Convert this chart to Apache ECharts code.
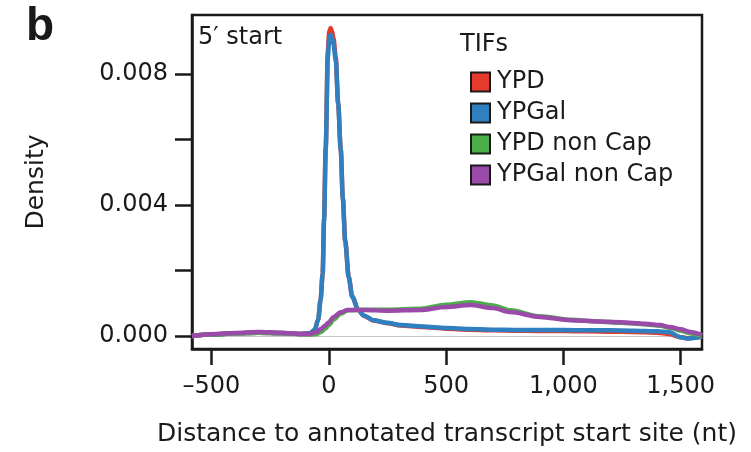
<!DOCTYPE html>
<html>
<head>
<meta charset="utf-8">
<script src="https://cdn.jsdelivr.net/npm/echarts@6/dist/echarts.min.js"></script>
<style>
html,body{margin:0;padding:0;background:#fff;}
#c{width:751px;height:452px;}
</style>
</head>
<body>
<div id="c"></div>
<script>
// ---- data ----
var seriesNames = ['YPD', 'YPGal', 'YPD non Cap', 'YPGal non Cap'];
var capX = [-583,-500,-400,-300,-200,-120,-80,-60,-45,-35,-26,-20,-13,-4,2,8,14,20,30,40,51,60,70,85,100,125,150,190,250,306,400,500,600,700,800,900,1000,1100,1200,1300,1400,1450,1500,1530,1591];
var ypdY = [0.00000,0.00004,0.00008,0.00010,0.00008,0.00006,0.00008,0.00018,0.0005,0.0011,0.0019,0.0036,0.0058,0.0087,0.0093,0.0094,0.0093,0.0091,0.0085,0.0071,0.0057,0.0042,0.0029,0.0018,0.0012,0.0008,0.00061,0.00047,0.00039,0.00032,0.00027,0.00022,0.00019,0.00017,0.00016,0.00015,0.00015,0.00014,0.00013,0.00012,0.0001,0.00006,-0.00004,-0.00007,-0.00002];
var ypgalY = [0.00000,0.00004,0.00008,0.00010,0.00008,0.00006,0.00008,0.00018,0.0005,0.0011,0.0019,0.0035,0.0057,0.0085,0.0091,0.0092,0.0091,0.0089,0.0084,0.0071,0.0057,0.0042,0.0029,0.0018,0.0012,0.0008,0.00062,0.00048,0.0004,0.00033,0.00029,0.00024,0.00021,0.00019,0.00018,0.00018,0.00018,0.00017,0.00017,0.00016,0.00014,0.00012,-0.00004,-0.00008,-0.00002];
var ncX = [-583,-500,-400,-300,-200,-120,-80,-50,-34,-15,0,21,50,81,150,250,391,500,604,700,774,900,1030,1150,1243,1350,1413,1455,1500,1540,1591];
var ypdNcY = [0.0,0.00004,0.00008,0.0001,0.00009,0.00005,0.00004,0.00006,0.00012,0.00022,0.00033,0.0005,0.00068,0.00078,0.0008,0.0008,0.00083,0.00095,0.00103,0.00093,0.00078,0.0006,0.00049,0.00044,0.0004,0.00035,0.00031,0.00025,0.00016,0.00008,0.0];
var ypgalNcY = [0.0,0.00005,0.00009,0.00012,0.0001,0.00006,0.00006,0.00012,0.00021,0.00032,0.00042,0.00058,0.00072,0.00079,0.00079,0.00077,0.00079,0.00088,0.00094,0.00085,0.00073,0.00058,0.00048,0.00044,0.00042,0.00037,0.00033,0.00027,0.0002,0.00012,0.00003];
var xTicks = [-500, 0, 500, 1000, 1500];
var yTicks = [0, 0.002, 0.004, 0.006, 0.008];
var yLabels = [0, 0.004, 0.008];
var colors = ['#e63a2c', '#2f80c1', '#4cae48', '#9a4aa8'];

function pairs(xs, ys){ return xs.map(function(x,i){ return [x, ys[i]]; }); }

var FONT = 'DejaVu Sans';
var chart = echarts.init(document.getElementById('c'), null, {renderer:'canvas'});
var lineSeries = function(name, data, color){
  return {
    name: name, type: 'line', data: data, showSymbol: false, symbol: 'none',
    smooth: 0.3, smoothMonotone: 'x',
    lineStyle: {color: color, width: 4.5},
    itemStyle: {color: color},
    animation: false
  };
};
var s = [
  lineSeries(seriesNames[0], pairs(capX, ypdY), colors[0]),
  lineSeries(seriesNames[1], pairs(capX, ypgalY), colors[1]),
  lineSeries(seriesNames[2], pairs(ncX, ypdNcY), colors[2]),
  lineSeries(seriesNames[3], pairs(ncX, ypgalNcY), colors[3])
];
s[0].markLine = {silent: true, symbol: 'none', label: {show: false},
  lineStyle: {color: '#c4c4c4', width: 1.2, type: 'solid'}, data: [{yAxis: 0}], z: 1};

chart.setOption({
  animation: false,
  backgroundColor: '#fff',
  textStyle: {fontFamily: FONT},
  grid: {left: 192, right: 49, top: 15, bottom: 100, show: true, borderColor: '#1a1a1a', borderWidth: 2.5, containLabel: false},
  xAxis: {
    type: 'value', min: -583, max: 1591,
    axisLine: {show: true, onZero: false, lineStyle: {color: '#1a1a1a', width: 2.5}},
    axisTick: {show: true, inside: false, length: 16, customValues: xTicks, lineStyle: {color: '#1a1a1a', width: 2.5}},
    axisLabel: {customValues: xTicks, margin: 26, color: '#1a1a1a', fontSize: 24, fontFamily: FONT,
      formatter: function(v){ if (v < 0) return '\u2013' + Math.abs(v); return String(v).replace(/\B(?=(\d{3})+(?!\d))/g, ','); }},
    splitLine: {show: false},
    name: 'Distance to annotated transcript start site (nt)', nameLocation: 'middle', nameGap: 73,
    nameTextStyle: {color: '#1a1a1a', fontSize: 25, fontFamily: FONT}
  },
  yAxis: {
    type: 'value', min: -0.0004, max: 0.0098,
    axisLine: {show: true, onZero: false, lineStyle: {color: '#1a1a1a', width: 2.5}},
    axisTick: {show: true, inside: false, length: 17, customValues: yTicks, lineStyle: {color: '#1a1a1a', width: 2.5}},
    axisLabel: {customValues: yLabels, margin: 24, color: '#1a1a1a', fontSize: 24, fontFamily: FONT,
      formatter: function(v){ return v.toFixed(3); }},
    splitLine: {show: false},
    name: 'Density', nameLocation: 'middle', nameGap: 143, nameRotate: 90,
    nameTextStyle: {color: '#1a1a1a', fontSize: 25, fontFamily: FONT}
  },
  legend: {
    data: seriesNames, orient: 'vertical', left: 465, top: 64,
    icon: 'rect', itemWidth: 19, itemHeight: 19, itemGap: 5,
    itemStyle: {borderColor: '#1a1a1a', borderWidth: 2},
    textStyle: {color: '#1a1a1a', fontSize: 24, fontFamily: FONT, lineHeight: 26, padding: [0,0,0,2]}
  },
  graphic: [
    {type: 'text', left: 26, top: 4, style: {text: 'b', font: 'bold 46px "Liberation Sans", Arial, sans-serif', fill: '#1a1a1a'}},
    {type: 'text', left: 198, top: 26, style: {text: '5\u2032 start', font: '24px "DejaVu Sans"', fill: '#1a1a1a'}},
    {type: 'text', left: 460, top: 33, style: {text: 'TIFs', font: '24px "DejaVu Sans"', fill: '#1a1a1a'}}
  ],
  series: s
});
</script>
</body>
</html>
